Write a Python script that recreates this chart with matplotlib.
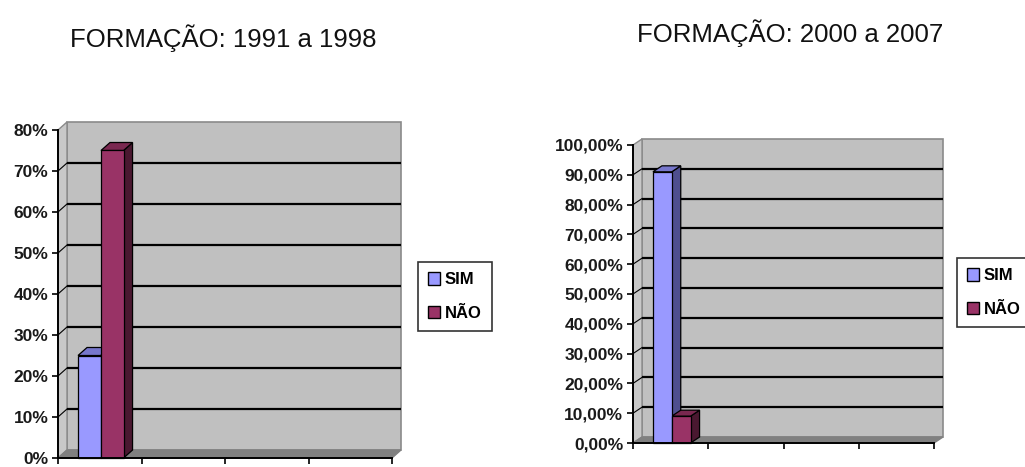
import matplotlib
matplotlib.use("Agg")
import matplotlib.pyplot as plt
from matplotlib.patches import Polygon, Rectangle, Patch
from matplotlib.ticker import FuncFormatter

# share of answers per period
series = ["SIM", "NÃO"]
sim_1991 = 25
nao_1991 = 75
sim_2000 = 91
nao_2000 = 9
n_cats = 4

sim_color = "#9999FF"
nao_color = "#993366"
sim_top, sim_side = "#7777CC", "#4F4F8F"
nao_top, nao_side = "#7A2850", "#4A1830"
wall = "#C0C0C0"

plt.rcParams["font.family"] = ["Liberation Sans", "DejaVu Sans"]

W, H = 1025, 467
fig = plt.figure(figsize=(W / 100, H / 100), dpi=100)


def px_axes(x0, y0, x1, y1):
    # pixel box (top-left origin) -> figure fraction axes
    return fig.add_axes([x0 / W, 1 - y1 / H, (x1 - x0) / W, (y1 - y0) / H])


def draw_chart(ax, ymax, step, fmt, vals, bar_left, bar_w, dx_px, dy_px):
    ax.set_xlim(0, n_cats)
    ax.set_ylim(0, ymax)
    ax.set_facecolor("none")
    bb = ax.get_window_extent()
    ddx = dx_px * n_cats / bb.width
    ddy = dy_px * ymax / bb.height

    # back wall, side wall and floor
    ax.add_patch(Rectangle((ddx, ddy), n_cats, ymax, facecolor=wall,
                           edgecolor="#8A8A8A", lw=1.2, clip_on=False, zorder=0))
    ax.add_patch(Polygon([(0, 0), (0, ymax), (ddx, ymax + ddy), (ddx, ddy)],
                         closed=True, facecolor="#C8C8C8", edgecolor="#8A8A8A",
                         lw=1, clip_on=False, zorder=0.5))
    ax.add_patch(Polygon([(0, 0), (n_cats, 0), (n_cats + ddx, ddy), (ddx, ddy)],
                         closed=True, facecolor="#808080", edgecolor="#808080",
                         lw=1, clip_on=False, zorder=0.5))

    y = step
    while y < ymax - 1e-9:
        ax.plot([ddx, n_cats + ddx], [y + ddy, y + ddy], color="black", lw=1.6,
                clip_on=False, zorder=1, solid_capstyle="butt")
        ax.plot([0, ddx], [y, y + ddy], color="black", lw=0.8,
                clip_on=False, zorder=1)
        y += step

    faces = [(sim_color, sim_top, sim_side), (nao_color, nao_top, nao_side)]
    for v, x0, (front, top, side) in zip(vals, bar_left, faces):
        x1 = x0 + bar_w
        ax.add_patch(Polygon([(x1, 0), (x1 + ddx, ddy), (x1 + ddx, v + ddy), (x1, v)],
                             closed=True, facecolor=side, edgecolor="black", lw=0.9,
                             clip_on=False, zorder=2))
        ax.add_patch(Polygon([(x0, v), (x1, v), (x1 + ddx, v + ddy), (x0 + ddx, v + ddy)],
                             closed=True, facecolor=top, edgecolor="black", lw=0.9,
                             clip_on=False, zorder=2))
        ax.bar(x0, v, width=bar_w, align="edge", color=front, edgecolor="black",
               lw=0.9, zorder=3, clip_on=False)

    for s in ["top", "right"]:
        ax.spines[s].set_visible(False)
    for s in ["left", "bottom"]:
        ax.spines[s].set_color("black")
        ax.spines[s].set_linewidth(1.4)
        ax.spines[s].set_zorder(4)
    ax.set_yticks([i * step for i in range(int(round(ymax / step)) + 1)])
    ax.yaxis.set_major_formatter(FuncFormatter(fmt))
    ax.set_xticks(range(n_cats + 1))
    ax.set_xticklabels([])
    ax.tick_params(axis="both", direction="out", length=4, width=1.2, color="black")
    ax.tick_params(axis="y", pad=3, labelsize=12.5, labelcolor="#1A1A1A")
    for t in ax.get_yticklabels():
        t.set_fontweight("bold")


left = px_axes(58, 130, 392, 458)
draw_chart(left, 80, 10, lambda v, p: f"{v:.0f}%", [sim_1991, nao_1991],
           [0.24, 0.515], 0.27, 9, 8)

right = px_axes(633, 145, 934, 443)
draw_chart(right, 100, 10, lambda v, p: f"{v:.2f}%".replace(".", ","),
           [sim_2000, nao_2000], [0.265, 0.515], 0.25, 9, 6)

fig.text(223 / W, 1 - 38 / H, "FORMAÇÃO: 1991 a 1998", ha="center", va="center",
         fontsize=18.5, color="#111111")
fig.text(790 / W, 1 - 33 / H, "FORMAÇÃO: 2000 a 2007", ha="center", va="center",
         fontsize=18.5, color="#111111")

handles = [Patch(facecolor=sim_color, edgecolor="black", lw=1),
           Patch(facecolor=nao_color, edgecolor="black", lw=1)]
for x, y in [(418, 262), (957, 258)]:
    leg = fig.legend(handles, series, loc="upper left",
                     bbox_to_anchor=(x / W, 1 - y / H), borderaxespad=0,
                     frameon=True, fancybox=False,
                     edgecolor="black", handlelength=0.7, handleheight=0.8,
                     handletextpad=0.3, labelspacing=1.1, borderpad=0.6,
                     prop={"weight": "bold", "size": 12})
    leg.get_frame().set_linewidth(1.2)

fig.savefig("out.png", dpi=100)
